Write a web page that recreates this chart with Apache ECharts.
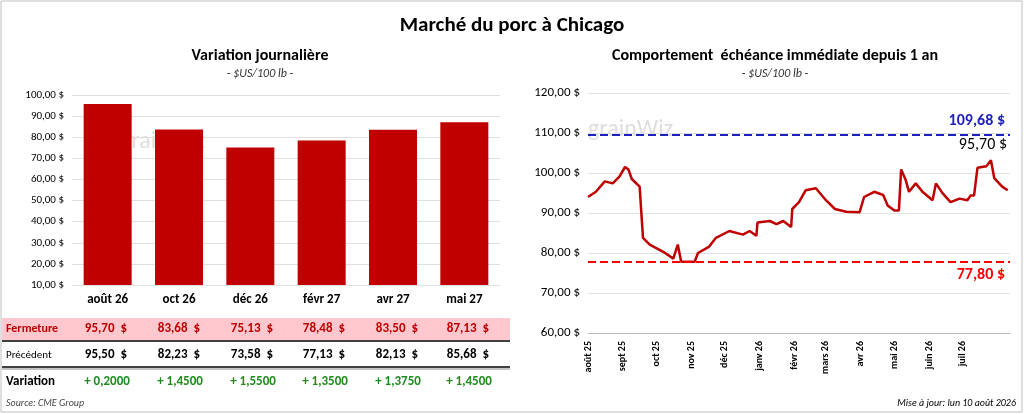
<!DOCTYPE html>
<html><head><meta charset="utf-8">
<script src="https://cdn.jsdelivr.net/npm/echarts@6/dist/echarts.min.js"></script>
<style>html,body{margin:0;background:#fff}#c{width:1024px;height:414px}</style>
</head><body><div id="c"></div>
<script>
var contracts = ['août 26','oct 26','déc 26','févr 27','avr 27','mai 27'];
var closing = [95.70, 83.68, 75.13, 78.48, 83.50, 87.13];
var previous = [95.50, 82.23, 73.58, 77.13, 82.13, 85.68];
var change = ['+ 0,2000','+ 1,4500','+ 1,5500','+ 1,3500','+ 1,3750','+ 1,4500'];

var histDates = ['2025-08-01','2025-08-08','2025-08-16','2025-08-23','2025-08-29','2025-09-03','2025-09-06','2025-09-09','2025-09-16','2025-09-19','2025-09-25','2025-10-07','2025-10-16','2025-10-20','2025-10-23','2025-11-04','2025-11-07','2025-11-17','2025-11-23','2025-12-05','2025-12-17','2025-12-23','2025-12-29','2025-12-30','2026-01-10','2026-01-16','2026-01-22','2026-01-29','2026-01-30','2026-02-05','2026-02-11','2026-02-20','2026-03-01','2026-03-09','2026-03-19','2026-03-31','2026-04-04','2026-04-13','2026-04-21','2026-04-25','2026-05-01','2026-05-05','2026-05-07','2026-05-11','2026-05-14','2026-05-20','2026-05-26','2026-06-04','2026-06-07','2026-06-13','2026-06-20','2026-06-28','2026-07-05','2026-07-08','2026-07-11','2026-07-14','2026-07-22','2026-07-26','2026-07-29','2026-08-05','2026-08-10'];
var histValues = [94.0,95.3,97.9,97.4,99.1,101.5,100.9,98.5,96.6,83.8,82.1,80.3,78.6,82.1,77.8,77.8,80.0,81.6,83.8,85.5,84.6,85.5,84.3,87.6,88.0,87.2,88.0,86.5,91.0,92.7,95.7,96.2,93.2,91.0,90.3,90.2,94.0,95.3,94.5,91.9,90.6,90.6,100.9,98.3,95.3,97.4,95.3,93.2,97.4,94.9,92.7,93.6,93.2,94.4,94.4,101.3,101.7,103.2,98.7,96.6,95.7];
var yearHigh = 109.68, yearLow = 77.80, lastPrice = 95.70;
var moisFr = ['janv','févr','mars','avr','mai','juin','juil','août','sept','oct','nov','déc'];

function fr(v, d) { return v.toFixed(d).replace('.', ','); }
var font = 'Calibri, Carlito, "Liberation Sans", sans-serif';

var chart = echarts.init(document.getElementById('c'));
var colX = [107, 180, 253, 325, 398, 469];
var g = [
  {type:'rect', shape:{x:1,y:1,width:1021,height:411}, style:{fill:'none',stroke:'#bfbfbf',lineWidth:1}},
  {type:'rect', shape:{x:2,y:318,width:508,height:22}, style:{fill:'#ffc7ce'}},
  {type:'line', shape:{x1:2,y1:341,x2:510,y2:341}, style:{stroke:'#000',lineWidth:1.5}},
  {type:'line', shape:{x1:2,y1:367,x2:510,y2:367}, style:{stroke:'#000',lineWidth:1.5}},
  {type:'line', shape:{x1:2,y1:369,x2:510,y2:369}, style:{stroke:'#888',lineWidth:1}},
  {type:'text', x:6, y:329, style:{text:'Fermeture', fill:'#c00000', font:'bold 12px '+font, verticalAlign:'middle'}},
  {type:'text', x:6, y:355, style:{text:'Précédent', fill:'#000', font:'11px '+font, verticalAlign:'middle'}},
  {type:'text', x:6, y:382, style:{text:'Variation', fill:'#000', font:'bold 13px '+font, verticalAlign:'middle'}},
  {type:'text', x:6, y:403, style:{text:'Source: CME Group', fill:'#444', font:'italic 10px '+font, verticalAlign:'middle'}},
  {type:'text', x:1016, y:403, style:{text:'Mise à jour: lun 10 août 2026', fill:'#000', font:'italic 10px '+font, align:'right', verticalAlign:'middle'}},
  {type:'text', x:512, y:26, style:{text:'Marché du porc à Chicago', fill:'#000', font:'bold 21px '+font, align:'center', verticalAlign:'middle'}},
  {type:'text', x:260, y:56, style:{text:'Variation journalière', fill:'#000', font:'bold 16px '+font, align:'center', verticalAlign:'middle'}},
  {type:'text', x:260, y:74, style:{text:'- $US/100 lb -', fill:'#333', font:'italic 12px '+font, align:'center', verticalAlign:'middle'}},
  {type:'text', x:775, y:56, style:{text:'Comportement  échéance immédiate depuis 1 an', fill:'#000', font:'bold 16px '+font, align:'center', verticalAlign:'middle'}},
  {type:'text', x:775, y:74, style:{text:'- $US/100 lb -', fill:'#333', font:'italic 12px '+font, align:'center', verticalAlign:'middle'}},
  {type:'text', x:120, y:130, style:{text:'grainWiz', fill:'rgba(160,160,160,0.35)', font:'24px '+font}},
  {type:'text', x:588, y:118, style:{text:'grainWiz', fill:'rgba(160,160,160,0.35)', font:'24px '+font}}
];
contracts.forEach(function (c, i) {
  g.push({type:'text', x:colX[i]+20, y:329, style:{text:fr(closing[i],2)+'  $', fill:'#c00000', font:'bold 13px '+font, align:'right', verticalAlign:'middle'}});
  g.push({type:'text', x:colX[i]+20, y:355, style:{text:fr(previous[i],2)+'  $', fill:'#000', font:'bold 13px '+font, align:'right', verticalAlign:'middle'}});
  g.push({type:'text', x:colX[i], y:382, style:{text:change[i], fill:'#1e8c1e', font:'bold 13px '+font, align:'center', verticalAlign:'middle'}});
});

var option = {
  backgroundColor:'#fff',
  animation:false,
  textStyle:{fontFamily:font},
  graphic:g,
  grid:[
    {left:72, right:524, top:95, height:190},
    {left:588, right:14, top:93, height:240}
  ],
  xAxis:[
    {type:'category', gridIndex:0, data:contracts,
     axisLine:{show:false}, axisTick:{show:false},
     axisLabel:{color:'#000', fontWeight:'bold', fontSize:13, margin:8}},
    {type:'time', gridIndex:1, min:'2025-08-01', max:'2026-08-12',
     minInterval:28*86400000, maxInterval:31*86400000,
     axisLine:{lineStyle:{color:'#bbb'}}, axisTick:{show:false}, splitLine:{show:false},
     axisLabel:{rotate:90, color:'#000', fontWeight:'bold', fontSize:10,
       formatter:function (v) { var d = new Date(v); if (d.getFullYear() === 2026 && d.getMonth() === 7) return ''; return moisFr[d.getMonth()] + ' ' + String(d.getFullYear()).slice(2); }}}
  ],
  yAxis:[
    {type:'value', gridIndex:0, min:10, max:100, interval:10,
     axisLine:{show:false}, axisTick:{show:false},
     splitLine:{lineStyle:{color:'#e0e0e0'}},
     axisLabel:{color:'#000', fontSize:11, formatter:function (v) { return fr(v,2)+' $'; }}},
    {type:'value', gridIndex:1, min:60, max:120, interval:10,
     axisLine:{show:false}, axisTick:{show:false},
     splitLine:{lineStyle:{color:'#e0e0e0'}},
     axisLabel:{color:'#000', fontSize:13, formatter:function (v) { return fr(v,2)+' $'; }}}
  ],
  series:[
    {type:'bar', xAxisIndex:0, yAxisIndex:0, data:closing, barWidth:48,
     itemStyle:{color:'#c00000'}},
    {type:'line', xAxisIndex:1, yAxisIndex:1, showSymbol:false, symbol:'none',
     data:histDates.map(function (d, i) { return [d, histValues[i]]; }),
     lineStyle:{color:'#c00000', width:2.5},
     markLine:{symbol:'none', silent:true,
       data:[
         {yAxis:yearHigh, lineStyle:{color:'#1f1fbf', type:'dashed', width:2},
          label:{position:'insideEndTop', formatter:fr(yearHigh,2)+' $', color:'#1f1fbf', fontWeight:'bold', fontSize:16}},
         {yAxis:yearLow, lineStyle:{color:'#ff0000', type:'dashed', width:2},
          label:{position:'insideEndBottom', formatter:fr(yearLow,2)+' $', color:'#ff0000', fontWeight:'bold', fontSize:16}}
       ]},
     markPoint:{symbol:'circle', symbolSize:1, itemStyle:{color:'transparent'},
       data:[{coord:['2026-07-26', 103.2], label:{show:true, position:'top', formatter:fr(lastPrice,2)+' $', color:'#000', fontSize:16, offset:[-8,-2]}}]}}
  ]
};
chart.setOption(option);
</script></body></html>
